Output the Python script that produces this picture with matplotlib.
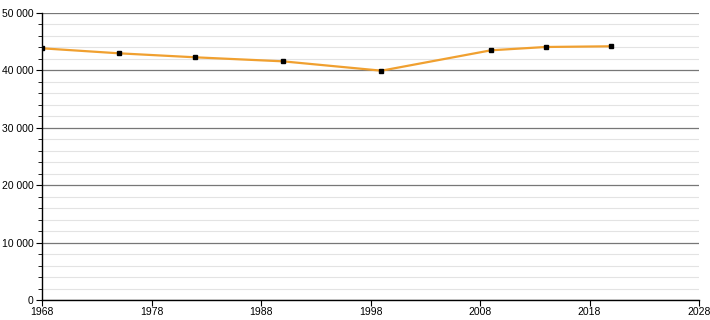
import matplotlib
matplotlib.use("Agg")
import matplotlib.pyplot as plt
from matplotlib.ticker import MultipleLocator, FuncFormatter

years = [1968, 1975, 1982, 1990, 1999, 2009, 2014, 2020]
population = [43850, 42980, 42280, 41580, 39950, 43500, 44080, 44200]
x_ticks = [1968, 1978, 1988, 1998, 2008, 2018, 2028]

plt.rcParams['font.family'] = ['Liberation Sans', 'DejaVu Sans']

fig = plt.figure(figsize=(7.1, 3.2), dpi=100)
ax = fig.add_axes([42/710, 20/320, (699-42)/710, (300-13)/320])

ax.set_xlim(1968, 2028)
ax.set_ylim(0, 50000)
ax.yaxis.set_major_locator(MultipleLocator(10000))
ax.yaxis.set_minor_locator(MultipleLocator(2000))
ax.set_xticks(x_ticks)
ax.yaxis.set_major_formatter(FuncFormatter(lambda v, p: f"{int(v):,}".replace(",", " ")))

ax.grid(which='major', axis='y', color='#777777', linewidth=0.9)
ax.grid(which='minor', axis='y', color='#e3e3e3', linewidth=0.8)
ax.set_axisbelow(True)

for s in ['top', 'right']:
    ax.spines[s].set_visible(False)
for s in ['left', 'bottom']:
    ax.spines[s].set_color('black')
    ax.spines[s].set_linewidth(1.0)

ax.tick_params(axis='y', which='major', length=4, labelsize=7.5, pad=2, color='black')
ax.tick_params(axis='x', which='major', length=4, labelsize=7.5, pad=1, color='black')
ax.tick_params(axis='y', which='minor', length=3, color='black')
ax.tick_params(axis='x', which='minor', length=0)

ax.plot(years, population, color='#f0a030', linewidth=1.6, zorder=3)
ax.plot(years, population, linestyle='none', marker='s', markersize=3.2,
        color='black', zorder=4)

fig.savefig("out.png", dpi=100)
